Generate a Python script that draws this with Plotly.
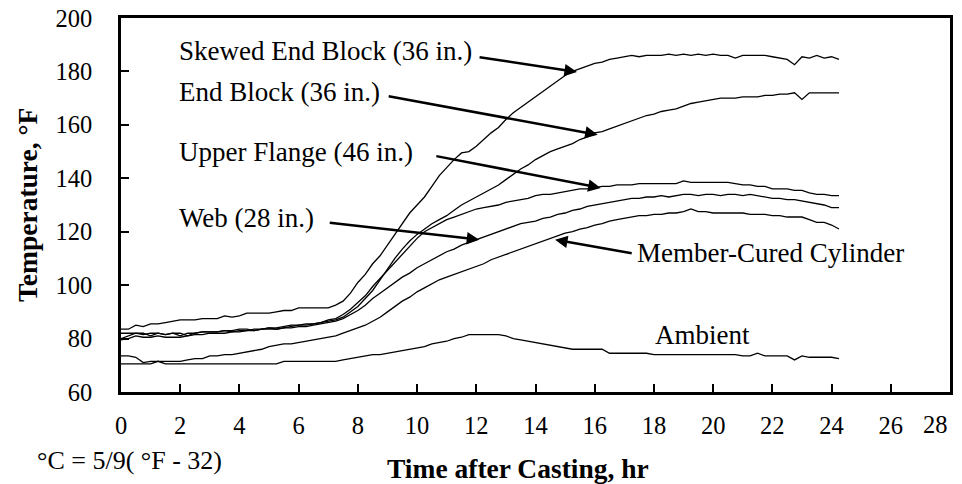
import plotly.graph_objects as go

# sampling grid (hours after casting, logged every 15 min)
hours = [i * 0.25 for i in range(98)]

skewed_end_block = [
    83.5, 83.5, 85, 84.5, 85.5, 85.5, 86, 86.5, 87, 87, 87, 87.5, 87.5, 87.5, 88.5, 88,
    88.5, 89.5, 89.5, 89.5, 89.5, 90, 90.5, 90.5, 91.5, 91.5, 91.5, 91.5, 91.5, 92.5, 94, 97,
    101, 104, 108, 111, 115, 119, 123, 127, 130, 133, 137, 141, 144, 147, 149.5, 150,
    152, 154.5, 157, 159, 162, 164.5, 166.5, 168.5, 170.5, 172.5, 174.5, 176.5,
    178.5, 180, 181, 182, 183, 183.5, 184.5, 185, 185.5, 186, 185.5, 186,
    186, 186, 186.5, 186, 186.5, 186, 186.5, 186, 186.5, 186, 186, 185,
    186, 186, 186, 186, 185.5, 185, 184.5, 182.5, 185.5, 185, 186, 185, 185.5, 184.5,
]
end_block = [
    80, 81, 82, 81.5, 82, 82, 81.5, 82, 82, 81, 82, 82.5, 82.5, 82.5, 83, 83,
    83.5, 83.5, 83, 83.5, 84, 84, 84.5, 85, 85, 85.5, 85.5, 86, 86.5, 87, 88, 90,
    92, 95, 98, 102, 106, 110, 113.5, 116.5, 119, 121, 123, 124.5, 126, 128, 130, 131.5,
    133, 134.5, 136, 137.5, 139.5, 141.5, 143.5, 145, 147, 148.5, 150, 151,
    152, 153, 154.5, 155.5, 157, 157.5, 158.5, 159.5, 160.5, 161.5, 162.5, 163.5,
    164, 165, 165.5, 166, 167, 168, 168.5, 169, 169.5, 170, 170, 170,
    170.5, 170.5, 170.5, 171, 171, 171.5, 171.5, 172, 169.5, 172, 172, 172, 172, 172,
]
upper_flange = [
    82, 82, 82, 82, 81, 82, 81.5, 82, 81, 82, 82, 82.5, 82.5, 82.5, 83, 82.5,
    83, 83, 83.5, 83.5, 84, 83.5, 84, 84.5, 85, 85, 85.5, 86, 87, 87.5, 89, 91,
    93.5, 96, 99.5, 102.5, 105.5, 108.5, 111.5, 114.5, 117.5, 120, 121.5, 123,
    124.5, 125.5, 126.5, 127.5, 128.5, 129, 129.5, 130, 131, 131.5, 132, 132.5,
    133.5, 134, 134, 134.5, 135, 135.5, 136, 136, 136.5, 137, 137, 137.5,
    137.5, 137.5, 138, 138, 138, 138, 138, 138, 139, 138.5, 138.5, 138.5,
    138.5, 138.5, 138.5, 138, 137.5, 137.5, 137, 137, 136, 136, 136, 135.5,
    135.5, 134.5, 134, 134, 133.5, 133.5,
]
web = [
    79.5, 80, 81, 80.5, 80.5, 81, 80.5, 80.5, 80.5, 81, 81.5, 81.5, 82, 82, 82, 82.5,
    82.5, 83, 83, 83.5, 83.5, 83.5, 84, 84, 84.5, 84.5, 85, 85.5, 86, 86.5, 87.5, 89,
    90.5, 92.5, 95, 97, 99, 101, 103, 104.5, 106.5, 108, 109.5, 111, 112.5, 113.5, 115, 116,
    117, 118, 119, 120, 121, 122, 123, 123.5, 124, 125, 125.5, 126.5,
    127, 128, 128.5, 129.5, 130, 130.5, 131, 131.5, 132, 132.5, 132.5, 133,
    133, 133.5, 133, 133.5, 134, 134, 133.5, 134, 134, 133.5, 134, 134,
    133.5, 134, 133.5, 133, 132.5, 132.5, 132, 132, 131.5, 131, 130.5, 130, 129, 129,
]
member_cured_cylinder = [
    73.5, 73.5, 73, 71, 71.5, 71.5, 71.5, 71.5, 71.5, 72, 72.5, 72.5, 73.5, 73.5, 74, 74,
    74.5, 75, 75.5, 76, 77, 77.5, 78, 78, 78.5, 79, 79.5, 80, 80.5, 81, 82, 83,
    84, 85, 86.5, 88, 90, 92, 94, 95.5, 97.5, 99, 100.5, 102, 103, 104, 105, 106,
    107, 108, 109.5, 110.5, 111.5, 112.5, 113.5, 114.5, 115.5, 116.5, 117.5, 118.5,
    119.5, 120, 121, 121.5, 122.5, 123, 124, 124.5, 125, 125.5, 126, 126,
    126.5, 126.5, 127, 127, 127.5, 128.5, 127.5, 127.5, 127, 127, 127, 127,
    127, 126.5, 126.5, 126.5, 126, 126, 125.5, 125.5, 125.5, 124.5, 123.5, 123.5, 122.5, 121,
]
ambient = [
    70.5, 70.5, 70.5, 70.5, 70.5, 71.5, 70.5, 70.5, 70.5, 70.5, 70.5, 70.5, 70.5, 70.5, 70.5, 70.5,
    70.5, 70.5, 70.5, 70.5, 70.5, 70.5, 71.5, 71.5, 71.5, 71.5, 71.5, 71.5, 71.5, 71.5, 72, 72.5,
    73, 73.5, 74, 74, 74.5, 75, 75.5, 76, 76.5, 77, 78, 78.5, 79, 80, 80.5, 81.5,
    81.5, 81.5, 81.5, 81.5, 81, 80, 79.5, 79, 78.5, 78, 77.5, 77,
    76.5, 76, 76, 76, 76, 76, 74.5, 74.5, 74.5, 74.5, 74.5, 74.5,
    74, 74, 74, 74, 74, 74, 74, 74, 74, 74, 74, 74,
    73.5, 73.5, 74.5, 73.5, 73.5, 73.5, 73.5, 72, 73.5, 73, 73, 73, 73, 72.5,
]

series = [skewed_end_block, end_block, upper_flange, web, member_cured_cylinder, ambient]

x_ticks = [0, 2, 4, 6, 8, 10, 12, 14, 16, 18, 20, 22, 24, 26, 28]
y_ticks = [60, 80, 100, 120, 140, 160, 180, 200]

FONT = "Liberation Serif"

fig = go.Figure()
for s in series:
    fig.add_trace(go.Scatter(x=hours, y=s, mode="lines",
                             line=dict(color="black", width=1.3),
                             showlegend=False, hoverinfo="skip"))

labels = [
    ("Skewed End Block (36 in.)", 1.89, 187.7),
    ("End Block (36 in.)", 1.89, 172.3),
    ("Upper Flange (46 in.)", 1.89, 149.7),
    ("Web (28 in.)", 1.89, 125.2),
    ("Member-Cured Cylinder", 17.36, 112.1),
    ("Ambient", 17.97, 81.5),
]
annotations = []
for txt, lx, ly in labels:
    annotations.append(dict(text=txt, x=lx, y=ly, xref="x", yref="y",
                            xanchor="left", yanchor="middle", showarrow=False,
                            font=dict(family=FONT, size=27, color="black")))

arrows = [  # (tail x, tail y, tip x, tip y)
    (12.06, 185.4, 15.4, 179.8),
    (8.99, 170.8, 16.1, 156.3),
    (10.6, 148.4, 16.2, 136.4),
    (7.0, 123.4, 12.1, 117.0),
    (17.3, 111.8, 14.66, 117.0),
]
for tx, ty, hx, hy in arrows:
    annotations.append(dict(text="", x=hx, y=hy, ax=tx, ay=ty, xref="x", yref="y",
                            axref="x", ayref="y", showarrow=True, arrowhead=2,
                            arrowsize=1, arrowwidth=2.5, arrowcolor="black"))

annotations.append(dict(text="28", x=(935 - 121) / 829, y=(392 - 425) / 374,
                        xref="paper", yref="paper",
                        xanchor="center", yanchor="middle", showarrow=False,
                        font=dict(family=FONT, size=24.5, color="black")))
annotations.append(dict(text="°C = 5/9( °F - 32)", x=(35 - 121) / 829, y=(392 - 460) / 374,
                        xref="paper", yref="paper", xanchor="left", yanchor="middle",
                        showarrow=False, font=dict(family=FONT, size=26, color="black")))
annotations.append(dict(text="<b>Time after Casting, hr</b>", x=(518 - 121) / 829,
                        y=(392 - 468) / 374, xref="paper", yref="paper",
                        xanchor="center", yanchor="middle", showarrow=False,
                        font=dict(family=FONT, size=27.5, color="black")))
annotations.append(dict(text="<b>Temperature, °F</b>", x=(27 - 121) / 829,
                        y=(392 - 205) / 374, xref="paper", yref="paper", textangle=-90,
                        xanchor="center", yanchor="middle", showarrow=False,
                        font=dict(family=FONT, size=27.5, color="black")))

fig.update_layout(
    width=962, height=484,
    margin=dict(l=121, r=12, t=18, b=92, autoexpand=False),
    paper_bgcolor="white", plot_bgcolor="white",
    annotations=annotations,
    xaxis=dict(range=[0, 28], tickvals=x_ticks,
               ticktext=[str(v) if v != 28 else "" for v in x_ticks],
               ticks="inside", ticklen=8, tickwidth=1.5, tickcolor="black",
               showline=True, linewidth=2.5, linecolor="black", mirror=True,
               showgrid=False, zeroline=False, ticklabelstandoff=10, automargin=False,
               tickfont=dict(family=FONT, size=24.5, color="black")),
    yaxis=dict(range=[60, 200], tickvals=y_ticks,
               ticks="inside", ticklen=8, tickwidth=1.5, tickcolor="black",
               showline=True, linewidth=2.5, linecolor="black", mirror=True,
               showgrid=False, zeroline=False, ticklabelstandoff=21, automargin=False,
               tickfont=dict(family=FONT, size=24.5, color="black")),
)

fig.write_html("out.html", config={"displayModeBar": False},
               post_script="document.body.style.margin='0';document.body.style.overflow='hidden';")
